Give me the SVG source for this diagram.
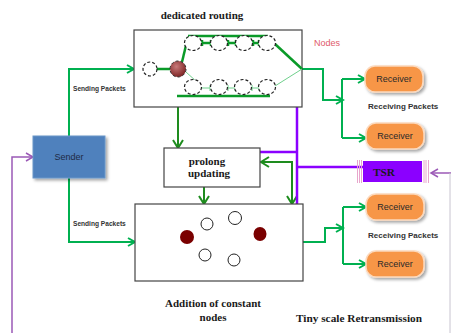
<svg xmlns="http://www.w3.org/2000/svg" width="451" height="333" viewBox="0 0 451 333">
<style>
.box{fill:#fff;stroke:#444;stroke-width:1.2}
.ser{font-family:"Liberation Serif",serif;font-weight:bold;fill:#1a1a1a}
.sans{font-family:"Liberation Sans",Arial,sans-serif}
.lbl{font-family:"Liberation Sans",Arial,sans-serif;font-weight:bold;fill:#333}
.rcv{fill:#f79646;stroke:#fcd9bd;stroke-width:1.5}
.dash{fill:#fff;stroke:#222;stroke-width:1.2;stroke-dasharray:3 2}
.g1{fill:none;stroke:#00b050;stroke-width:2}
.g2{fill:none;stroke:#1e8c1e;stroke-width:2}
.gi{fill:none;stroke:#0a9a28;stroke-width:2.5}
.gt{fill:none;stroke:#6fd08c;stroke-width:1}
.pv{fill:none;stroke:#8b00ff;stroke-width:2.5}
.pl{fill:none;stroke:#9b59b6;stroke-width:1.5}
.pink{stroke:#e8a6cc;stroke-width:1}
</style>
<defs>
<marker id="ag1" markerUnits="userSpaceOnUse" markerWidth="10" markerHeight="10" refX="8" refY="5" orient="auto-start-reverse"><path d="M1,1 L8,5 L1,9" fill="none" stroke="#00b050" stroke-width="2"/></marker>
<marker id="ag2" markerUnits="userSpaceOnUse" markerWidth="12" markerHeight="12" refX="9" refY="6" orient="auto-start-reverse"><path d="M1,1 L9,6 L1,11" fill="none" stroke="#1e8c1e" stroke-width="2"/></marker>
<marker id="ap" markerUnits="userSpaceOnUse" markerWidth="10" markerHeight="10" refX="8" refY="5" orient="auto-start-reverse"><path d="M1,1 L8,5 L1,9" fill="none" stroke="#9b59b6" stroke-width="1.5"/></marker>
<radialGradient id="sph" cx="0.4" cy="0.35" r="0.7"><stop offset="0" stop-color="#c87a7a"/><stop offset="1" stop-color="#7a2020"/></radialGradient>
<filter id="sh" x="-20%" y="-20%" width="150%" height="160%"><feDropShadow dx="2" dy="2" stdDeviation="1.5" flood-color="#000" flood-opacity="0.35"/></filter>
</defs>

<g id="connectors">
<path class="g1" d="M69,136 V69 H134" marker-end="url(#ag1)"/>
<path class="g1" d="M134,69 H143" stroke-width="1"/>
<path class="g1" d="M69,178 V242 H135" marker-end="url(#ag1)"/>
<path class="g1" d="M135,242 H143"/>
<path class="pl" d="M12,333 V157 H33" marker-end="url(#ap)"/>
<path class="g1" d="M302,69 H323 V100 H343" marker-end="url(#ag1)"/>
<path class="g1" d="M342,79 V138"/>
<path class="g1" d="M342,79 H365" marker-end="url(#ag1)"/>
<path class="g1" d="M342,138 H366" marker-end="url(#ag1)"/>
<path class="g1" d="M278,258 L303,242 H325 V228 H343" marker-end="url(#ag1)"/>
<path class="g1" d="M343,207 V264"/>
<path class="g1" d="M343,207 H366" marker-end="url(#ag1)"/>
<path class="g1" d="M343,264 H366" marker-end="url(#ag1)"/>
<path class="g2" d="M178,148 V78" marker-start="url(#ag2)" marker-end="url(#ag2)"/>
<path class="g2" d="M204,187 V204" marker-end="url(#ag2)"/>
<path class="g2" d="M292,204 V162 H261" marker-start="url(#ag2)" marker-end="url(#ag2)"/>
<path class="pv" d="M297,107 V204"/>
<path class="pv" d="M260,152 H297"/>
<path class="pv" d="M297,167 H363"/>
<path class="pl" d="M451,173 H431" marker-end="url(#ap)"/>
<path d="M450,173 V333" stroke="#c8c4d0" stroke-width="1" fill="none"/>
</g>

<g id="routing">
<rect class="box" x="134" y="30" width="168" height="77"/>
<text class="ser" x="202" y="19" font-size="11" text-anchor="middle">dedicated routing</text>
<path class="gi" d="M157,69 H170" stroke-width="2"/>
<path class="gi" d="M182,62 L188,37"/>
<path class="gi" d="M188,36 H268"/>
<path class="gi" d="M275,44 L302,69"/>
<path class="gt" d="M275,86 L302,69"/>
<path class="gt" d="M186,72 L197,82"/>
<path class="gi" d="M177,96 H270"/>
<path class="gi" stroke-width="2" d="M202,43 H211 M228,43 H236 M253,43 H259"/>
<path class="gi" stroke-width="1" d="M202,40 V46 M211,40 V46 M228,40 V46 M236,40 V46 M253,40 V46 M259,40 V46"/>
<path class="gt" stroke-width="1.5" d="M202,88 H210 M228,88 H235 M252,88 H259"/>
<path class="gt" d="M210,85 V91 M228,85 V91 M235,85 V91 M252,85 V91 M259,85 V91"/>
<circle class="dash" cx="150" cy="69" r="7"/>
<ellipse class="dash" cx="193" cy="43" rx="8.5" ry="7.5"/>
<ellipse class="dash" cx="219" cy="43" rx="8.5" ry="7.5"/>
<ellipse class="dash" cx="244" cy="43" rx="8.5" ry="7.5"/>
<ellipse class="dash" cx="267" cy="43" rx="8.5" ry="7.5"/>
<ellipse class="dash" cx="193" cy="87" rx="8.5" ry="7.5"/>
<ellipse class="dash" cx="219" cy="87" rx="8.5" ry="7.5"/>
<ellipse class="dash" cx="243" cy="87" rx="8.5" ry="7.5"/>
<ellipse class="dash" cx="267" cy="87" rx="8.5" ry="7.5"/>
<circle cx="178" cy="69" r="8" fill="url(#sph)" stroke="#333" stroke-width="1" stroke-dasharray="3 2"/>
<text class="sans" x="314" y="46" font-size="9" fill="#e05a6a">Nodes</text>
</g>

<g id="sender">
<rect x="33" y="136" width="72" height="42" fill="#4f81bd" stroke="#6b96c8" stroke-width="1" filter="url(#sh)"/>
<text class="sans" x="69" y="160" font-size="9" fill="#1f2a44" text-anchor="middle">Sender</text>
</g>
<text class="lbl" x="73" y="91" font-size="6.6">Sending Packets</text>
<text class="lbl" x="73" y="226" font-size="6.6">Sending Packets</text>

<g id="prolong">
<rect class="box" x="164" y="148" width="96" height="39" stroke="#555"/>
<text class="ser" x="207" y="165" font-size="11" text-anchor="middle">prolong</text>
<text class="ser" x="209" y="177" font-size="11" text-anchor="middle">updating</text>
</g>

<g id="constant">
<rect class="box" x="135" y="204" width="168" height="77"/>
<ellipse cx="187" cy="237" rx="7" ry="7" fill="#7a0000"/>
<ellipse cx="260" cy="234" rx="6.5" ry="7" fill="#7a0000"/>
<circle cx="207" cy="224" r="6" fill="#fff" stroke="#222" stroke-width="1"/>
<circle cx="235" cy="218" r="6.5" fill="#fff" stroke="#222" stroke-width="1"/>
<circle cx="205" cy="255" r="6" fill="#fff" stroke="#222" stroke-width="1"/>
<circle cx="234" cy="260" r="6" fill="#fff" stroke="#222" stroke-width="1"/>
<text class="ser" x="213" y="307" font-size="11" text-anchor="middle">Addition of constant</text>
<text class="ser" x="213" y="321" font-size="11" text-anchor="middle">nodes</text>
</g>

<g id="tsr">
<rect x="363" y="161" width="59" height="21" fill="#8b00ff"/>
<path class="pink" d="M357.5,160 V183 M359.5,160 V183 M361.5,160 V183 M424,160 V183 M426,160 V183 M428.5,160 V183"/>
<text class="ser" x="384" y="176" font-size="11.3" text-anchor="middle" fill="#1a1a4a">TSR</text>
</g>

<g id="receiver1"><rect class="rcv" x="365" y="66" width="58" height="26" rx="10" filter="url(#sh)"/><text class="sans" x="394" y="82" font-size="9" fill="#2a2a2a" text-anchor="middle">Receiver</text></g>
<g id="receiver2"><rect class="rcv" x="366" y="123" width="58" height="26" rx="10" filter="url(#sh)"/><text class="sans" x="395" y="139" font-size="9" fill="#2a2a2a" text-anchor="middle">Receiver</text></g>
<g id="receiver3"><rect class="rcv" x="366" y="194" width="58" height="26" rx="10" filter="url(#sh)"/><text class="sans" x="395" y="210" font-size="9" fill="#2a2a2a" text-anchor="middle">Receiver</text></g>
<g id="receiver4"><rect class="rcv" x="366" y="251" width="58" height="26" rx="10" filter="url(#sh)"/><text class="sans" x="395" y="267" font-size="9" fill="#2a2a2a" text-anchor="middle">Receiver</text></g>
<text class="lbl" x="368" y="109" font-size="8">Receiving Packets</text>
<text class="lbl" x="368" y="238" font-size="8">Receiving Packets</text>
<text class="ser" x="296" y="322" font-size="11.3">Tiny scale Retransmission</text>
</svg>
